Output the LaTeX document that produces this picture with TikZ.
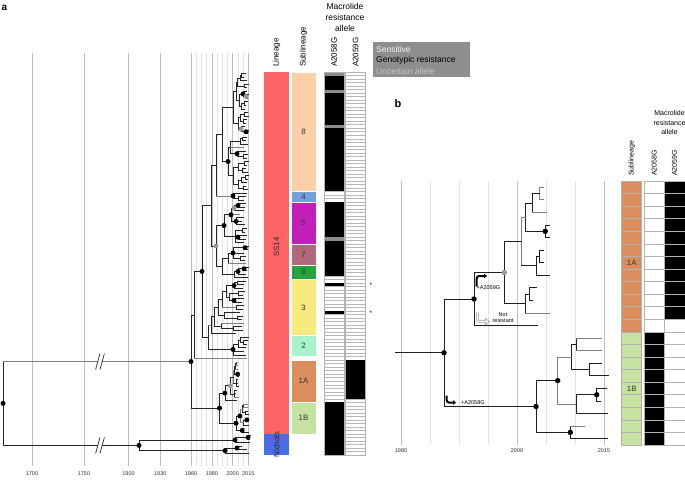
\documentclass[tikz,border=0pt]{standalone}
\usepackage{fontspec}
\setmainfont{Liberation Sans}
\usetikzlibrary{arrows.meta}
\definecolor{ssred}{HTML}{FF6566}
\definecolor{nblue}{HTML}{4A6DE5}
\definecolor{seight}{HTML}{FCCFA8}
\definecolor{sfour}{HTML}{74A0E0}
\definecolor{sfive}{HTML}{C21FB8}
\definecolor{sseven}{HTML}{B0687A}
\definecolor{ssix}{HTML}{25A33D}
\definecolor{sthree}{HTML}{F7E97D}
\definecolor{stwo}{HTML}{A8F2CC}
\definecolor{sonea}{HTML}{DC8D5E}
\definecolor{soneb}{HTML}{C5E2A0}
\definecolor{legbg}{HTML}{8E8E8E}
\newcommand\ya[1]{73.76+3.514*(#1)}
\newcommand\ybb[1]{187.3+12.57*(#1)}
\newcommand\ry[1]{72+3.514*(#1)}
\newcommand\tbV[4][]{\draw[abr,#1] (#2,{\ya{#3}}) -- (#2,{\ya{#4}});}
\newcommand\tbE[4][]{\draw[abr,#1] (#2,{\ya{#4}}) -- (#3,{\ya{#4}});}
\newcommand\tbC[4]{\tbV{#1}{#2}{#2+1}\tbE{#1}{#3}{#2}\tbE{#1}{#4}{#2+1}}
\newcommand\tbD[2]{\node[adot] at (#1,{\ya{#2}}) {};}
\newcommand\tbG[2]{\node[agdot] at (#1,{\ya{#2}}) {};}
\newcommand\bbV[4][]{\draw[bbr,#1] (#2,{\ybb{#3}}) -- (#2,{\ybb{#4}});}
\newcommand\bbE[4][]{\draw[bbr,#1] (#2,{\ybb{#4}}) -- (#3,{\ybb{#4}});}
\newcommand\bbD[2]{\node[bdot] at (#1,{\ybb{#2}}) {};}
\newcommand\bbG[2]{\node[bgdot] at (#1,{\ybb{#2}}) {};}
\newcommand\BTree{%
 \bbV[gbr]{539.3}{0}{1}\bbE[gbr]{539.3}{543.3}{0}\bbE[gbr]{539.3}{543.3}{1}%
 \bbV{532.7}{0.5}{2}\bbE{532.7}{539.3}{0.5}\bbE[gbr]{532.7}{546.7}{2}%
 \bbV{545.3}{3}{4}\bbE{545.3}{549.3}{3}\bbE{545.3}{549.3}{4}%
 \bbV{525.3}{1.25}{3.5}\bbE{525.3}{532.7}{1.25}\bbE{525.3}{545.3}{3.5}%
 \bbV{539.3}{5}{6}\bbE{539.3}{543.3}{5}\bbE{539.3}{543.3}{6}%
 \bbV{536}{5.5}{7}\bbE{536}{539.3}{5.5}\bbE{536}{549.3}{7}%
 \bbV[gbr]{521.7}{2.375}{6.25}\bbE[gbr]{521.7}{525.3}{2.375}\bbE{521.7}{536}{6.25}%
 \bbV{529.3}{8}{9}\bbE{529.3}{536.7}{8}\bbE{529.3}{533}{9}%
 \bbV{525.3}{8.5}{10}\bbE{525.3}{529.3}{8.5}\bbE[gbr]{525.3}{549.3}{10}%
 \bbV{504.3}{4.3125}{9.25}\bbE{504.3}{521.7}{4.3125}\bbE{504.3}{525.3}{9.25}%
 \bbV{474}{6.78}{11}\bbE{474}{504.3}{6.78}\bbE{474}{537.7}{11}%
 \bbV{576}{12}{13}\bbE[gbr]{576}{601.7}{12}\bbE[gbr]{576}{601.7}{13}%
 \bbV{589}{14}{15}\bbE{589}{601.7}{14}\bbE{589}{608.3}{15}%
 \bbV{571.7}{12.5}{14.5}\bbE{571.7}{576}{12.5}\bbE{571.7}{589}{14.5}%
 \bbV{596.7}{16}{17}\bbE{596.7}{607}{16}\bbE{596.7}{601}{17}%
 \bbV{576}{16.5}{18}\bbE{576}{596.7}{16.5}\bbE{576}{608}{18}%
 \bbV[gbr]{557.7}{13.5}{17.25}\bbE[gbr]{557.7}{571.7}{13.5}\bbE[gbr]{557.7}{576}{17.25}%
 \bbV{570.3}{19}{20}\bbE[gbr]{570.3}{584.3}{19}\bbE{570.3}{608}{20}%
 \bbV{536}{15.375}{19.5}\bbE{536}{557.7}{15.375}\bbE{536}{570.3}{19.5}%
 \bbV{444}{8.89}{17.44}\bbE{444}{474}{8.89}\bbE{444}{536}{17.44}%
}
\newcommand\BDots{%
 \bbD{545.3}{3.5}\bbG{504.3}{6.78}\bbD{474}{8.89}\bbD{596.7}{16.5}%
 \bbD{557.7}{15.375}\bbD{570.3}{19.5}\bbD{536}{17.44}\bbD{444}{13.165}}
\begin{document}
\begin{tikzpicture}[x=1pt,y=-1pt,
 abr/.style={line width=0.75pt, black!85, line cap=rect},
 gbr/.style={black!50},
 bbr/.style={line width=0.9pt, black!88, line cap=rect},
 adot/.style={circle, fill=black, inner sep=0pt, minimum size=5pt},
 agdot/.style={circle, fill=black!40, inner sep=0pt, minimum size=5pt},
 bdot/.style={circle, fill=black, inner sep=0pt, minimum size=5.4pt},
 bgdot/.style={circle, fill=black!40, inner sep=0pt, minimum size=5.4pt},
 gl/.style={line width=0.7pt, black!11},
 gld/.style={line width=0.7pt, black!25},
 ax/.style={font=\fontsize{5.5}{6}\selectfont, text=black!80, inner sep=0pt},
 hdr/.style={font=\fontsize{8}{9}\selectfont, rotate=90, anchor=west, inner sep=0pt},
 bhdr/.style={font=\fontsize{7}{8}\selectfont, rotate=90, anchor=west, inner sep=0pt},
 sub/.style={font=\fontsize{7.8}{8}\selectfont, text=black!80, inner sep=0pt},
 ann/.style={font=\fontsize{5.5}{6}\selectfont, inner sep=0pt}]
\useasboundingbox (0,0) rectangle (685,482);
% ---------- panel labels
\node[font=\bfseries\fontsize{10}{12}\selectfont, inner sep=0pt] (la) at (4.5,7.5) {a};
\node[font=\bfseries\fontsize{11}{13}\selectfont, inner sep=0pt] (lb) at (398,104) {b};
% ---------- panel a grid
\foreach \yr in {1965,1970,1975,1985,1990,1995,2005,2010}
 \draw[gl] ({191+1.0425*(\yr-1960)},53) -- ({191+1.0425*(\yr-1960)},466);
\foreach \xx in {32,84,128.5,160.3,191,211.9,232.7,248.3}
 \draw[gld] (\xx,53) -- (\xx,466);
\foreach \xx/\t in {32/1700,84/1750,128.5/1900,160.3/1930,191/1960,211.9/1980,232.7/2000,248.3/2015}
 \node[ax] at (\xx,474) {\t};
% ---------- panel a tree: root and breaks
\tbV{3}{81.895}{105.75}
\draw[abr,gbr] (3,{\ya{81.895}}) -- (97.8,{\ya{81.895}});
\draw[abr,gbr] (102.2,{\ya{81.895}}) -- (191,{\ya{81.895}});
\draw[abr] (3,{\ya{105.75}}) -- (97.8,{\ya{105.75}});
\draw[abr] (102.2,{\ya{105.75}}) -- (139,{\ya{105.75}});
\foreach \yy in {361.5,445.4}{
 \draw[line width=0.75pt,black!80] (95.6,\yy+8) -- (100,\yy-8);
 \draw[line width=0.75pt,black!80] (100,\yy+8) -- (104.4,\yy-8);}
% clade 8
\tbC{241}{0}{246}{244}
\tbC{244}{3}{249}{247}
\tbV{240}{0.5}{2}\tbE{240}{241}{0.5}\tbE{240}{247}{2}
\tbV{237}{1.25}{3.5}\tbE{237}{240}{1.25}\tbE{237}{244}{3.5}
\tbC{246}{6}{249}{248}
\tbV{243}{5}{6.5}\tbE{243}{247}{5}\tbE{243}{246}{6.5}
\tbC{244}{8}{248}{246}
\tbV{241}{8.5}{10}\tbE{241}{244}{8.5}\tbE{241}{245}{10}
\tbV{239}{5.75}{9.25}\tbE{239}{243}{5.75}\tbE{239}{241}{9.25}
\tbV{236}{2.375}{7.5}\tbE{236}{237}{2.375}\tbE{236}{239}{7.5}
\tbC{246}{16}{249}{248}
\tbV{241}{15}{16.5}\tbE{241}{245}{15}\tbE{241}{246}{16.5}
\tbC{244}{11}{248}{249}
\tbC{243}{13}{247}{246}
\tbV{240}{11.5}{13.5}\tbE{240}{244}{11.5}\tbE{240}{243}{13.5}
\tbV{238}{12.5}{15.75}\tbE{238}{240}{12.5}\tbE{238}{241}{15.75}
\tbV{233}{4.9375}{14.125}\tbE{233}{236}{4.9375}\tbE{233}{238}{14.125}
\tbC{242}{18}{247}{246}
\tbV{240}{18.5}{20}\tbE{240}{242}{18.5}\tbE{240}{248}{20}
\tbC{243}{23}{248}{247}
\tbV{237}{22}{23.5}\tbE{237}{246}{22}\tbE{237}{243}{23.5}
\tbV{230}{19.25}{22.75}\tbE{230}{240}{19.25}\tbE[gbr]{230}{244}{21}\tbE{230}{237}{22.75}
\tbC{244}{25}{249}{247}
\tbC{242}{27}{246}{248}
\tbV{238}{25.5}{27.5}\tbE{238}{244}{25.5}\tbE{238}{242}{27.5}
\tbC{245}{29}{249}{248}
\tbV{241}{29.5}{31}\tbE{241}{245}{29.5}\tbE{241}{247}{31}
\tbC{243}{32}{246}{248}
\tbV{238}{30.25}{32.5}\tbE{238}{241}{30.25}\tbE{238}{243}{32.5}
\tbV{233}{26.5}{31.375}\tbE{233}{238}{26.5}\tbE{233}{238}{31.375}
\tbV{228}{21}{28.9375}\tbE{228}{230}{21}\tbE{228}{233}{28.9375}
\tbV{222}{9.53}{24.97}\tbE{222}{233}{9.53}\tbE{222}{228}{24.97}
% clade 4
\tbC{238}{35}{246}{244}
\tbV{233}{34}{35.5}\tbE{233}{247}{34}\tbE{233}{238}{35.5}
\tbV{216}{17.25}{34.75}\tbE{216}{222}{17.25}\tbE[gbr]{216}{233}{34.75}
% clade 5
\tbC{238}{37}{246}{245}
\tbV{234}{37.5}{39}\tbE{234}{238}{37.5}\tbE{234}{244}{39}
\tbV{236}{41}{43}\tbE{236}{244}{41}\tbE{236}{242}{42}\tbE{236}{245}{43}
\tbV{231}{38.25}{42}\tbE{231}{234}{38.25}\tbE[gbr]{231}{240}{40}\tbE{231}{236}{42}
\tbC{242}{44}{247}{245}
\tbC{238}{46}{247}{246}
\tbV{235}{44.5}{48}\tbE{235}{242}{44.5}\tbE{235}{238}{46.5}\tbE{235}{244}{48}
\tbV{224}{40.125}{46.25}\tbE{224}{231}{40.125}\tbE{224}{235}{46.25}
% clade 7 and 6
\tbC{245}{49}{249}{248}
\tbC{240}{52}{246}{245}
\tbV{233}{49.5}{52.5}\tbE{233}{245}{49.5}\tbE{233}{244}{51}\tbE{233}{240}{52.5}
\tbV{228}{51}{54}\tbE{228}{233}{51}\tbE[gbr]{228}{246}{54}
\tbC{244}{55}{249}{247}
\tbV{238}{55.5}{57}\tbE{238}{244}{55.5}\tbE{238}{246}{57}
\tbV{234}{56.25}{58}\tbE{234}{238}{56.25}\tbE{234}{248}{58}
\tbV{222}{52.5}{57.125}\tbE{222}{228}{52.5}\tbE{222}{234}{57.125}
\tbV{216}{43.19}{54.8125}\tbE{216}{224}{43.19}\tbE{216}{222}{54.8125}
\tbV{211}{26}{49}\tbE{211}{216}{26}\tbE{211}{216}{49}
% clade 3
\tbC{237}{59}{246}{244}
\tbV{234}{59.5}{61}\tbE{234}{237}{59.5}\tbE{234}{243}{61}
\tbC{238}{62}{245}{243}
\tbC{234}{64}{244}{242}
\tbV{229}{62.5}{64.5}\tbE{229}{238}{62.5}\tbE{229}{234}{64.5}
\tbV{226}{60.25}{63.5}\tbE{226}{234}{60.25}\tbE{226}{229}{63.5}
\tbC{236}{66}{244}{243}
\tbV{222}{61.875}{66.5}\tbE{222}{226}{61.875}\tbE[gbr]{222}{236}{66.5}
\tbC{237}{69}{243}{242}
\tbV{224}{68}{69.5}\tbE{224}{240}{68}\tbE{224}{237}{69.5}
\tbV{218}{64.19}{68.75}\tbE{218}{222}{64.19}\tbE{218}{224}{68.75}
\tbC{233}{72}{242}{243}
\tbV{221}{71}{72.5}\tbE[gbr]{221}{244}{71}\tbE{221}{233}{72.5}
\tbV{214}{66.47}{71.75}\tbE{214}{218}{66.47}\tbE{214}{221}{71.75}
\tbV{211}{69.11}{74}\tbE{211}{214}{69.11}\tbE{211}{236}{74}
% clade 2
\tbC{243}{76}{248}{247}
\tbV{240}{75}{76.5}\tbE{240}{249}{75}\tbE{240}{243}{76.5}
\tbV{238}{75.75}{78}\tbE{238}{240}{75.75}\tbE{238}{246}{78}
\tbV{233}{76.875}{80}\tbE{233}{238}{76.875}\tbE{233}{244}{79}\tbE{233}{246}{80}
\tbV{208}{71.555}{78.44}\tbE[gbr]{208}{211}{71.555}\tbE{208}{233}{78.44}
\tbV{202}{37.5}{74.9975}\tbE{202}{211}{37.5}\tbE{202}{208}{74.9975}
\tbV{194}{56.25}{81}\tbE{194}{202}{56.25}\tbE[gbr]{194}{247}{81}
\tbV{191}{68.625}{95.165}\tbE{191}{194}{68.625}\tbE{191}{219.5}{95.165}
% 1A / 1B clade (same as panel b, rescaled)
\begin{scope}[xshift=139.9pt, yshift=-309.54pt, xscale=0.1793, yscale=0.27956,
 bbr/.style={abr}, bdot/.style={adot}, bgdot/.style={agdot}]
 \BTree
 \BDots
\end{scope}
% Nichols
\tbC{248}{103}{250.5}{250}
\tbV{235}{103.5}{105}\tbE{235}{248}{103.5}\tbE{235}{250}{105}
\tbC{237}{106}{242}{247}
\tbV{225}{106.5}{108}\tbE{225}{237}{106.5}\tbE{225}{249}{108}
\tbV{139}{104.25}{107.25}\tbE{139}{235}{104.25}\tbE{139}{225}{107.25}
% dots panel a
\tbD{243}{5.75}\tbD{246}{16.5}\tbD{237}{22.75}\tbD{228}{24.97}\tbD{233}{34.75}
\tbD{238}{37.5}\tbD{236}{42}\tbD{231}{40.125}\tbD{238}{46.5}\tbD{224}{43.19}
\tbD{245}{49.5}\tbD{233}{51}\tbD{244}{55.5}\tbD{238}{56.25}\tbD{234}{60.25}
\tbD{234}{64.5}\tbD{233}{78.44}\tbD{202}{56.25}\tbD{191}{81.895}
\tbD{248}{103.5}\tbD{235}{104.25}\tbD{237}{106.5}\tbD{225}{107.25}\tbD{139}{105.75}\tbD{3}{93.82}
\tbG{246}{6.5}\tbG{241}{15.75}\tbG{234}{38.25}\tbG{216}{49}
% ---------- lineage column
\fill[ssred] (264,72) rectangle (289,{\ry{103}});
\fill[nblue] (264,{\ry{103}}) rectangle (289,455);
\node[sub, rotate=90, text=black!85] (tss) at (276.5,247) {SS14};
\node[sub, rotate=90, text=black!85] (tni) at (276.5,444.5) {Nichols};
% ---------- sublineage column
\foreach \a/\b/\c/\t in {0/34/seight/8, 34/37/sfour/4, 37/49/sfive/5, 49/55/sseven/7, 55/59/ssix/6, 59/75/sthree/3, 75/81/stwo/2, 82/94/sonea/1A, 94/103/soneb/1B}{
 \filldraw[fill=\c, draw=white, line width=0.6pt] (291,{\ry{\a}}) rectangle (316,{\ry{\b}});
 \node[sub] at (303.5,{72+3.514*(\a+\b)/2}) {\t};}
% ---------- macrolide columns panel a
\fill[white] (324,72) rectangle (366,455);
\foreach \k in {1,...,108}{
 \draw[black!28, line width=0.5pt] (324,{\ry{\k}}) -- (344,{\ry{\k}});
 \draw[black!28, line width=0.5pt] (345.7,{\ry{\k}}) -- (365.7,{\ry{\k}});}
\foreach \a/\b in {1/5, 6/15, 16/34, 37/47, 48/58, 60/61, 68/69, 94/109}
 \fill[black] (324,{\ry{\a}}) rectangle (344,{\ry{\b}});
\foreach \a/\b in {0/1, 5/6, 15/16, 47/48}
 \fill[black!45] (324,{\ry{\a}}) rectangle (344,{\ry{\b}});
\fill[black] (345.7,{\ry{82}}) rectangle (365.7,{\ry{93}});
\draw[black!30, line width=0.5pt] (324,72) rectangle (344,455);
\draw[black!30, line width=0.5pt] (345.7,72) rectangle (365.7,455);
\node[font=\fontsize{6.5}{6.5}\selectfont, inner sep=0pt] (as1) at (371,{\ry{60.5}+1}) {*};
\node[font=\fontsize{6.5}{6.5}\selectfont, inner sep=0pt] (as2) at (371,{\ry{68.5}+1}) {*};
% ---------- headers panel a
\node[hdr] (hl) at (276.5,67) {Lineage};
\node[hdr] (hs) at (303.5,67) {Sublineage};
\node[hdr] (h58) at (334,67) {A2058G};
\node[hdr] (h59) at (355.7,67) {A2059G};
\node[font=\fontsize{8.5}{11}\selectfont, align=center, inner sep=0pt] (hm) at (345,17) {Macrolide\\resistance\\allele};
% ---------- legend
\fill[legbg] (373,42) rectangle (470,77);
\node[font=\fontsize{8.5}{10}\selectfont, anchor=west, inner sep=0pt, text=black!4] (l1) at (376,49) {Sensitive};
\node[font=\fontsize{8.5}{10}\selectfont, anchor=west, inner sep=0pt, text=black] (l2) at (376,60) {Genotypic resistance};
\node[font=\fontsize{8.5}{10}\selectfont, anchor=west, inner sep=0pt, text=black!22] (l3) at (376,71) {Uncertain allele};
% ---------- panel b grid
\foreach \yr in {1985,1990,1995,2005,2010}
 \draw[gl] ({401+5.8*(\yr-1980)},181) -- ({401+5.8*(\yr-1980)},445);
\foreach \yr in {1980,2000,2015}{
 \draw[gld] ({401+5.8*(\yr-1980)},181) -- ({401+5.8*(\yr-1980)},445);
 \node[ax] at ({401+5.8*(\yr-1980)},450.5) {\yr};}
% ---------- panel b tree
\bbE{395}{444}{13.165}
\BTree
\BDots
% annotations
\draw[line width=2pt, rounded corners=2.5pt, -{Triangle[length=3pt,width=4.5pt]}] (476.7,286.5) |- (487,276);
\node[ann, anchor=west] (t59) at (476.5,287.5) {+A2059G};
\draw[line width=2.4pt, black!45, rounded corners=2.5pt] (477.3,312.5) |- (485,321.5);
\draw[line width=1.2pt, white, rounded corners=2.5pt] (477.3,312.3) |- (485.3,321.5);
\draw[black!45, fill=white, line width=0.5pt] (485,318.3) -- (489.5,321.5) -- (485,324.7) -- cycle;
\node[ann, align=center] (tnr) at (503,317.5) {Not\\resistant};
\draw[line width=2pt, rounded corners=2.2pt, -{Triangle[length=3pt,width=4.5pt]}] (446.7,395.5) |- (456,402.5);
\node[ann, anchor=west] (t58) at (461,402.5) {+A2058G};
% ---------- panel b columns
\foreach \k in {0,...,11}{
 \filldraw[fill=sonea, draw=black!30, line width=0.5pt] (621.7,{181+12.57*\k}) rectangle (641.7,{181+12.57*(\k+1)});
 \filldraw[fill=white, draw=black!30, line width=0.5pt] (644.3,{181+12.57*\k}) rectangle (664.3,{181+12.57*(\k+1)});}
\foreach \k in {12,...,20}{
 \filldraw[fill=soneb, draw=black!30, line width=0.5pt] (621.7,{181+12.57*\k}) rectangle (641.7,{181+12.57*(\k+1)});
 \filldraw[fill=black, draw=black!30, line width=0.5pt] (644.3,{181+12.57*\k}) rectangle (664.3,{181+12.57*(\k+1)});}
\foreach \k in {0,...,10}
 \filldraw[fill=black, draw=black!30, line width=0.5pt] (664.3,{181+12.57*\k}) rectangle (684.8,{181+12.57*(\k+1)});
\foreach \k in {11,...,20}
 \filldraw[fill=white, draw=black!30, line width=0.5pt] (664.3,{181+12.57*\k}) rectangle (684.8,{181+12.57*(\k+1)});
\node[sub] (b1a) at (631.7,262.5) {1A};
\node[sub] (b1b) at (631.7,389) {1B};
% headers panel b
\node[bhdr] (bhs) at (631.7,176) {Sublineage};
\node[bhdr] (bh58) at (654.3,176) {A2058G};
\node[bhdr] (bh59) at (674.5,176) {A2059G};
\node[font=\fontsize{7}{9.6}\selectfont, align=center, inner sep=0pt] (bhm) at (669.5,122.5) {Macrolide\\resistance\\allele};
\end{tikzpicture}
\end{document}
